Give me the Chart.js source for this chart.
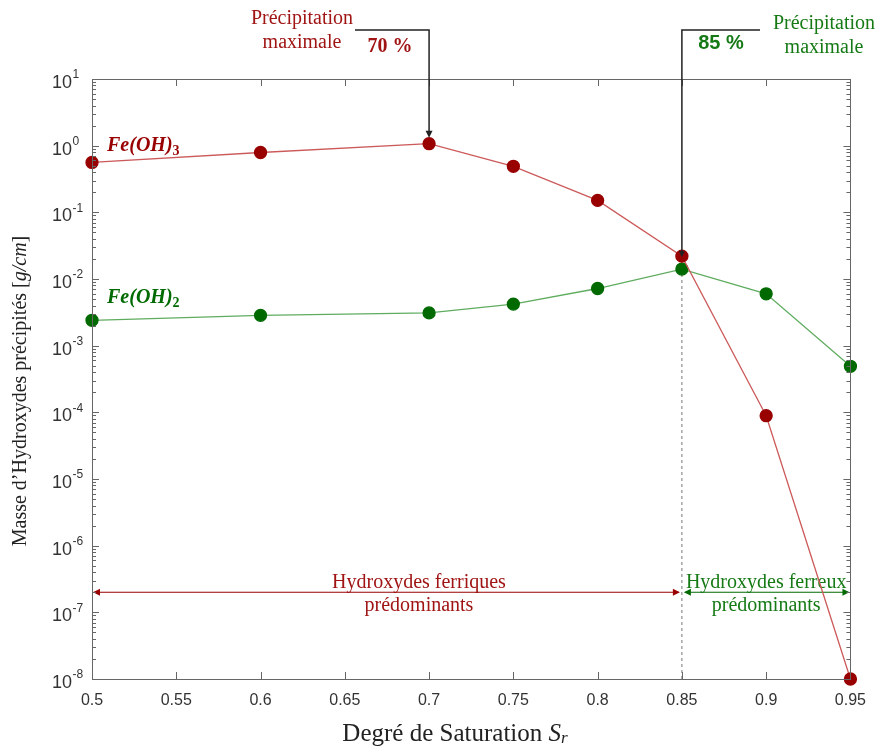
<!DOCTYPE html>
<html>
<head>
<meta charset="utf-8">
<script src="https://cdn.jsdelivr.net/npm/chart.js@4.4.1/dist/chart.umd.min.js"></script>
<style>
    html, body { margin: 0; padding: 0; background: #fff; }
</style>
</head>
<body>
<canvas id="hydroxChart" width="878" height="749"></canvas>
<script>
// Data
const saturation = [0.5, 0.6, 0.7, 0.75, 0.8, 0.85, 0.9, 0.95];
const fe3Mass = [0.56, 0.79, 1.07, 0.49, 0.151, 0.022, 8.9e-5, 1e-8];
const fe2Mass = [0.0024, 0.00285, 0.0031, 0.0042, 0.0072, 0.0141, 0.006, 0.00049];
const xTickLabels = ['0.5', '0.55', '0.6', '0.65', '0.7', '0.75', '0.8', '0.85', '0.9', '0.95'];
const yExponents = [-8, -7, -6, -5, -4, -3, -2, -1, 0, 1];
const fe3Peak = 0.7;      // précipitation maximale Fe(OH)3
const fe2Peak = 0.85;     // précipitation maximale Fe(OH)2
const zoneLevel = 2e-7;   // height of the region arrows

const RED = '#990000', RED_LINE = '#cc5a5a', RED_TEXT = '#a01414';
const GREEN = '#006a00', GREEN_LINE = '#5fac5f', GREEN_TEXT = '#157a15';
const SERIF = '"Liberation Serif", serif';
const SANS = '"Liberation Sans", Arial, sans-serif';

function arrowHead(ctx, x, y, dir, len, half) {
    // dir: 'down' | 'left' | 'right'
    ctx.beginPath();
    if (dir === 'down') {
        ctx.moveTo(x, y); ctx.lineTo(x - half, y - len); ctx.lineTo(x + half, y - len);
    } else if (dir === 'left') {
        ctx.moveTo(x, y); ctx.lineTo(x + len, y - half); ctx.lineTo(x + len, y + half);
    } else {
        ctx.moveTo(x, y); ctx.lineTo(x - len, y - half); ctx.lineTo(x - len, y + half);
    }
    ctx.closePath();
    ctx.fill();
}

function mixedText(ctx, parts, x, y, align) {
    // parts: [{t, font, dy}]
    let total = 0;
    parts.forEach(p => { ctx.font = p.font; p.w = ctx.measureText(p.t).width; total += p.w; });
    let cx = align === 'center' ? x - total / 2 : x;
    ctx.textAlign = 'left';
    parts.forEach(p => {
        ctx.font = p.font;
        ctx.fillText(p.t, cx, y + (p.dy || 0));
        cx += p.w;
    });
}

const decorations = {
    id: 'decorations',
    beforeDatasetsDraw(chart) {
        const { ctx, chartArea: a, scales: { x, y } } = chart;
        ctx.save();
        // dotted line at 85 %
        const xp = x.getPixelForValue(fe2Peak);
        ctx.strokeStyle = '#777';
        ctx.lineWidth = 1;
        ctx.setLineDash([3, 3]);
        ctx.beginPath();
        ctx.moveTo(xp, a.bottom);
        ctx.lineTo(xp, y.getPixelForValue(fe2Mass[saturation.indexOf(fe2Peak)]));
        ctx.stroke();
        ctx.setLineDash([]);

        // region arrows
        const zy = y.getPixelForValue(zoneLevel);
        const x0 = x.getPixelForValue(0.5), x1 = x.getPixelForValue(0.95);
        ctx.lineWidth = 1.2;
        ctx.strokeStyle = RED; ctx.fillStyle = RED;
        ctx.beginPath(); ctx.moveTo(x0 + 2, zy); ctx.lineTo(xp - 3, zy); ctx.stroke();
        arrowHead(ctx, x0 + 1, zy, 'left', 7, 3.5);
        arrowHead(ctx, xp - 2, zy, 'right', 7, 3.5);
        ctx.strokeStyle = GREEN; ctx.fillStyle = GREEN;
        ctx.beginPath(); ctx.moveTo(xp + 3, zy); ctx.lineTo(x1 - 2, zy); ctx.stroke();
        arrowHead(ctx, xp + 2, zy, 'left', 7, 3.5);
        arrowHead(ctx, x1 - 1, zy, 'right', 7, 3.5);

        // region texts
        ctx.textBaseline = 'middle';
        ctx.textAlign = 'center';
        ctx.font = '20px ' + SERIF;
        ctx.fillStyle = RED_TEXT;
        const rx = x.getPixelForValue(0.694);
        ctx.fillText('Hydroxydes ferriques', rx, zy - 10);
        ctx.fillText('prédominants', rx, zy + 13);
        ctx.fillStyle = GREEN_TEXT;
        const gx = (xp + x1) / 2;
        ctx.fillText('Hydroxydes ferreux', gx, zy - 10);
        ctx.fillText('prédominants', gx, zy + 13);
        ctx.restore();
    },
    afterDatasetsDraw(chart) {
        const { ctx, chartArea: a, scales: { x, y } } = chart;
        ctx.save();
        // axes box
        ctx.strokeStyle = '#666';
        ctx.lineWidth = 1;
        ctx.strokeRect(Math.round(a.left) + 0.5, Math.round(a.top) + 0.5,
            Math.round(a.right - a.left), Math.round(a.bottom - a.top));
        // inward ticks
        ctx.beginPath();
        x.ticks.forEach(t => {
            const px = Math.round(x.getPixelForValue(t.value)) + 0.5;
            ctx.moveTo(px, a.bottom); ctx.lineTo(px, a.bottom - 7);
            ctx.moveTo(px, a.top); ctx.lineTo(px, a.top + 7);
        });
        y.ticks.forEach(t => {
            const py = Math.round(y.getPixelForValue(t.value)) + 0.5;
            const len = t.major ? 7 : 4;
            ctx.moveTo(a.left, py); ctx.lineTo(a.left + len, py);
            ctx.moveTo(a.right, py); ctx.lineTo(a.right - len, py);
        });
        ctx.stroke();

        // y tick labels 10^n
        ctx.fillStyle = '#333';
        ctx.textBaseline = 'middle';
        yExponents.forEach(e => {
            const py = y.getPixelForValue(Math.pow(10, e));
            ctx.font = '18px ' + SANS;
            ctx.textAlign = 'right';
            ctx.fillText('10', 72, py + 4);
            ctx.font = '12px ' + SANS;
            ctx.textAlign = 'left';
            ctx.fillText(String(e), 72.5, py - 4);
        });

        // annotation: Fe(OH)3 maximum
        const lineY = 30;
        ctx.strokeStyle = '#222';
        ctx.fillStyle = '#222';
        ctx.lineWidth = 1.5;
        const ax = x.getPixelForValue(fe3Peak);
        const ay = y.getPixelForValue(fe3Mass[saturation.indexOf(fe3Peak)]) - 6;
        ctx.beginPath();
        ctx.moveTo(355, lineY); ctx.lineTo(ax, lineY); ctx.lineTo(ax, ay - 5);
        ctx.stroke();
        arrowHead(ctx, ax, ay, 'down', 7, 3.5);

        // annotation: Fe(OH)2 maximum
        const bx = x.getPixelForValue(fe2Peak);
        const by = y.getPixelForValue(fe3Mass[saturation.indexOf(fe2Peak)]) + 1;
        ctx.beginPath();
        ctx.moveTo(760, lineY); ctx.lineTo(bx, lineY); ctx.lineTo(bx, by - 5);
        ctx.stroke();
        arrowHead(ctx, bx, by, 'down', 6, 3);

        // texts of annotations
        ctx.textAlign = 'center';
        ctx.textBaseline = 'middle';
        ctx.font = '20px ' + SERIF;
        ctx.fillStyle = RED_TEXT;
        ctx.fillText('Précipitation', 302, 19);
        ctx.fillText('maximale', 302, 43);
        ctx.font = 'bold 20px ' + SERIF;
        ctx.fillText('70 %', 390, 47);
        ctx.fillStyle = GREEN_TEXT;
        ctx.font = '20px ' + SERIF;
        ctx.fillText('Précipitation', 824, 24);
        ctx.fillText('maximale', 824, 48);
        ctx.font = 'bold 20px "Liberation Sans", sans-serif';
        ctx.fillText('85 %', 721, 43);

        // series labels
        ctx.fillStyle = RED;
        mixedText(ctx, [
            { t: 'Fe(OH)', font: 'italic bold 20px ' + SERIF },
            { t: '3', font: 'bold 14px ' + SERIF, dy: 5 }
        ], 107, 146, 'left');
        ctx.fillStyle = GREEN;
        mixedText(ctx, [
            { t: 'Fe(OH)', font: 'italic bold 20px ' + SERIF },
            { t: '2', font: 'bold 14px ' + SERIF, dy: 5 }
        ], 107, 298, 'left');

        // axis titles
        ctx.fillStyle = '#222';
        mixedText(ctx, [
            { t: 'Degré de Saturation ', font: '25px ' + SERIF },
            { t: 'S', font: 'italic 25px ' + SERIF },
            { t: 'r', font: 'italic 17px ' + SERIF, dy: 5 }
        ], 455, 734, 'center');
        ctx.translate(21, 391);
        ctx.rotate(-Math.PI / 2);
        mixedText(ctx, [
            { t: 'Masse d’Hydroxydes précipités [', font: '20px ' + SERIF },
            { t: 'g/cm', font: 'italic 20px ' + SERIF },
            { t: ']', font: '20px ' + SERIF }
        ], 0, 0, 'center');
        ctx.restore();
    }
};

const toPoints = vals => saturation.map((s, i) => ({ x: s, y: vals[i] }));

new Chart(document.getElementById('hydroxChart'), {
    type: 'line',
    data: {
        datasets: [{
            label: 'Fe(OH)3',
            data: toPoints(fe3Mass),
            borderColor: RED_LINE,
            borderWidth: 1.3,
            pointBackgroundColor: RED,
            pointBorderColor: RED,
            pointRadius: 6,
            tension: 0,
            clip: false
        }, {
            label: 'Fe(OH)2',
            data: toPoints(fe2Mass),
            borderColor: GREEN_LINE,
            borderWidth: 1.3,
            pointBackgroundColor: GREEN,
            pointBorderColor: GREEN,
            pointRadius: 6,
            tension: 0,
            clip: false
        }]
    },
    options: {
        responsive: false,
        animation: false,
        devicePixelRatio: 1,
        layout: { padding: { top: 79, right: 25, left: 0, bottom: 0 } },
        plugins: {
            legend: { display: false },
            tooltip: { enabled: false }
        },
        scales: {
            x: {
                type: 'linear',
                min: 0.5,
                max: 0.95,
                afterBuildTicks: s => { s.ticks = xTickLabels.map(v => ({ value: parseFloat(v) })); },
                afterFit: s => { s.height = 70; },
                grid: { display: false, drawTicks: false },
                border: { display: false },
                ticks: {
                    autoSkip: false,
                    maxRotation: 0,
                    padding: 12,
                    color: '#333',
                    font: { family: 'Liberation Sans', size: 16 },
                    callback: (v, i) => xTickLabels[i]
                }
            },
            y: {
                type: 'logarithmic',
                min: 1e-8,
                max: 10,
                afterBuildTicks: s => {
                    const t = [];
                    yExponents.forEach(e => {
                        t.push({ value: Math.pow(10, e), major: true });
                        if (e < 1) for (let m = 2; m <= 9; m++) t.push({ value: m * Math.pow(10, e), major: false });
                    });
                    s.ticks = t;
                },
                afterFit: s => { s.width = 92; },
                grid: { display: false, drawTicks: false },
                border: { display: false },
                ticks: { display: false }
            }
        }
    },
    plugins: [decorations]
});
</script>
</body>
</html>
